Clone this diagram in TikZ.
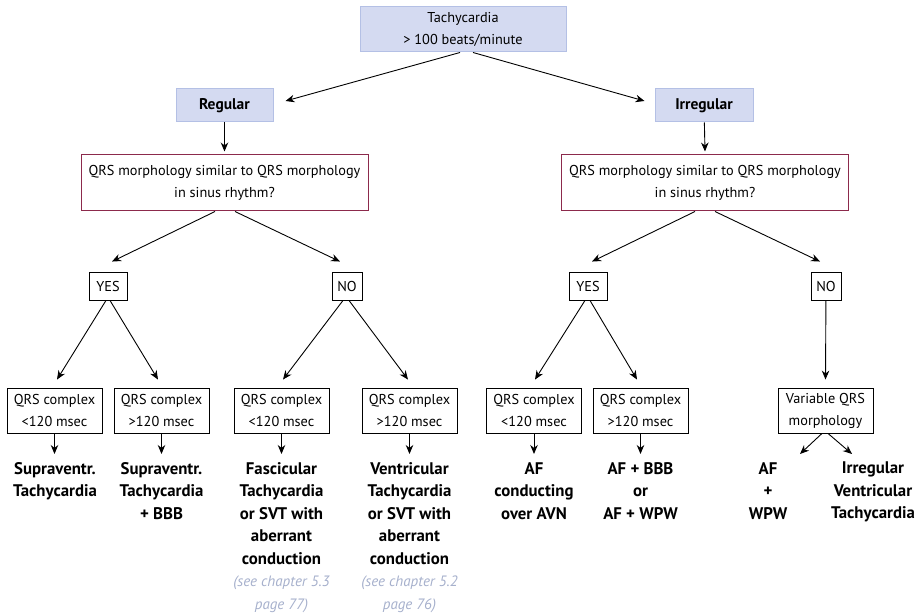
\documentclass[tikz,border=0pt]{standalone}
\usepackage{fontspec}
\setmainfont{PT Sans}
\usepackage{tikz}
\usetikzlibrary{arrows.meta}

\definecolor{boxblue}{HTML}{D4DAF1}
\definecolor{edgeblue}{HTML}{B4C0E5}
\definecolor{qrsred}{HTML}{8C2A4C}
\definecolor{notegray}{HTML}{A6B0CC}
\newcommand{\chapref}[1]{{\color{notegray}\mdseries\itshape\fontsize{15}{22.5}\selectfont #1}}

\begin{document}
\begin{tikzpicture}[x=1pt, y=-1pt,
  every node/.style={font=\fontsize{14.3}{22}\selectfont},
  head/.style={draw=edgeblue, fill=boxblue, line width=1pt, align=center, inner sep=0pt},
  question/.style={draw=qrsred, line width=1pt, align=center, inner sep=0pt, minimum width=287pt, minimum height=56pt},
  answer/.style={draw, line width=0.9pt, inner sep=0pt, minimum height=28pt},
  qrsbox/.style={draw, line width=0.9pt, align=center, inner sep=0pt, minimum width=95pt, minimum height=45pt},
  result/.style={align=center, inner sep=0pt, anchor=north, font=\bfseries\fontsize{16.8}{22.5}\selectfont},
  arr/.style={-{Stealth[length=9pt, width=7.5pt]}, line width=0.9pt}]
\useasboundingbox (0,0) rectangle (919,615);

% top of the tree
\node[head, minimum width=206pt, minimum height=45pt] (tachy) at (463,29.5) {Tachycardia\\> 100 beats/minute};
\node[head, minimum width=97pt, minimum height=33pt, font=\bfseries\fontsize{15.5}{22}\selectfont] (regular) at (224.5,105.5) {Regular};
\node[head, minimum width=98pt, minimum height=33pt, font=\bfseries\fontsize{15.5}{22}\selectfont] (irregular) at (704,105.5) {Irregular};
\draw[arr] ([xshift=-3pt]tachy.south) -- ([xshift=12pt, yshift=4.5pt]regular.east);
\draw[arr] ([xshift=10pt]tachy.south) -- ([xshift=-10pt, yshift=4.5pt]irregular.west);

% morphology questions
\node[question] (qrsL) at (224.5,183) {QRS morphology similar to QRS morphology\\in sinus rhythm?};
\node[question] (qrsR) at (705,183) {QRS morphology similar to QRS morphology\\in sinus rhythm?};
\draw[arr] (regular) -- ([yshift=3pt]qrsL.north);
\draw[arr] (irregular) -- ([yshift=3pt]qrsR.north);

% yes / no
\node[answer, minimum width=38pt] (yesL) at (108,286) {YES};
\node[answer, minimum width=30pt] (noL) at (347,286) {NO};
\node[answer, minimum width=38pt] (yesR) at (588,286) {YES};
\node[answer, minimum width=30pt] (noR) at (826,286) {NO};
\draw[arr] ([xshift=-9.5pt]qrsL.south) -- ([xshift=4pt, yshift=10pt]yesL.north);
\draw[arr] ([xshift=10.5pt]qrsL.south) -- ([xshift=-7pt, yshift=10pt]noL.north);
\draw[arr] ([xshift=-10pt]qrsR.south) -- ([xshift=4pt, yshift=10pt]yesR.north);
\draw[arr] ([xshift=10pt]qrsR.south) -- ([xshift=-6pt, yshift=10pt]noR.north);

% QRS width boxes
\node[qrsbox] (c1) at (54.5,410.5) {QRS complex\\<120 msec};
\node[qrsbox] (c2) at (161.5,410.5) {QRS complex\\>120 msec};
\node[qrsbox] (c3) at (281.5,410.5) {QRS complex\\<120 msec};
\node[qrsbox] (c4) at (409.5,410.5) {QRS complex\\>120 msec};
\node[qrsbox] (c5) at (534,410.5) {QRS complex\\<120 msec};
\node[qrsbox] (c6) at (640.5,410.5) {QRS complex\\>120 msec};
\node[qrsbox] (var) at (825.5,410.5) {Variable QRS\\morphology};
\draw[arr] ([xshift=-2pt]yesL.south) -- ([xshift=2.5pt, yshift=8pt]c1.north);
\draw[arr] ([xshift=2pt]yesL.south) -- ([xshift=-3.5pt, yshift=8pt]c2.north);
\draw[arr] ([xshift=-4pt]noL.south) -- ([xshift=1.5pt, yshift=8pt]c3.north);
\draw[arr] ([xshift=2pt]noL.south) -- ([xshift=-1.5pt, yshift=8pt]c4.north);
\draw[arr] ([xshift=-3pt]yesR.south) -- ([xshift=1pt, yshift=8pt]c5.north);
\draw[arr] ([xshift=2pt]yesR.south) -- ([xshift=-3.5pt, yshift=8pt]c6.north);
\draw[arr] (noR) -- ([yshift=8pt]var.north);

% diagnoses
\node[result] (o1) at (55,462) {Supraventr.\\Tachycardia};
\node[result] (o2) at (161.5,462) {Supraventr.\\Tachycardia\\+ BBB};
\node[result] (o3) at (281.5,462) {Fascicular\\Tachycardia\\or SVT with\\aberrant\\conduction\\\chapref{(see chapter 5.3}\\\chapref{page 77)}};
\node[result] (o4) at (409.5,462) {Ventricular\\Tachycardia\\or SVT with\\aberrant\\conduction\\\chapref{(see chapter 5.2}\\\chapref{page 76)}};
\node[result] (o5) at (534,462) {AF\\conducting\\over AVN};
\node[result] (o6) at (640.5,462) {AF + BBB\\or\\AF + WPW};
\node[result] (o7) at (768,462) {AF\\+\\WPW};
\node[result] (o8) at (873,462) {Irregular\\Ventricular\\Tachycardia};
\foreach \n in {1,...,6} {
  \draw[arr, shorten >=8pt] (c\n.south) -- (c\n.south |- o\n.north);
}
\draw[arr] ([xshift=-3.5pt]var.south) -- ([xshift=32pt, yshift=8pt]o7.north);
\draw[arr] ([xshift=2.5pt]var.south) -- ([xshift=-21pt, yshift=8pt]o8.north);
\end{tikzpicture}
\end{document}
